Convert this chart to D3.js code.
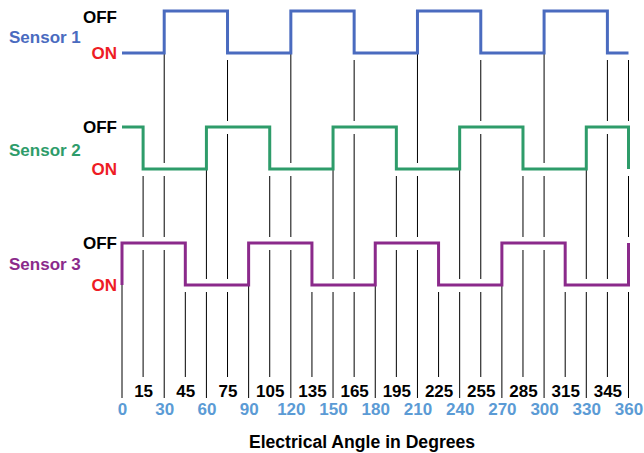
<!DOCTYPE html>
<html>
<head>
<meta charset="utf-8">
<script src="https://cdn.jsdelivr.net/npm/d3@7"></script>
<style>
  body { margin: 0; background: #fff; }
  text { font-family: "Liberation Sans", Arial, Helvetica, sans-serif; font-weight: bold; }
</style>
</head>
<body>
<svg id="chart" width="644" height="453"></svg>
<script>
// data
const sensorNames = ["Sensor 1", "Sensor 2", "Sensor 3"];
const startStates = ["ON", "OFF", "ON"];
const sensor1Edges = [30, 75, 120, 165, 210, 255, 300, 345];
const sensor2Edges = [15, 60, 105, 150, 195, 240, 285, 330, 360];
const sensor3Edges = [0, 45, 90, 135, 180, 225, 270, 315, 360];
const majorTicks = [0, 30, 60, 90, 120, 150, 180, 210, 240, 270, 300, 330, 360];
const minorTicks = [15, 45, 75, 105, 135, 165, 195, 225, 255, 285, 315, 345];
const axisTitle = "Electrical Angle in Degrees";

var dimensions = {
    width: 644,
    height: 453,
    left: 122,
    right: 628.5
}

var sensorColors = ["#4a6bbf", "#2e9c6a", "#8b2a8b"];
var onColor = "#ee1c25";
var tickBlue = "#5b9bd5";

var sensors = sensorNames.map((name, i) => ({
    name: name,
    start: startStates[i],
    edges: [sensor1Edges, sensor2Edges, sensor3Edges][i]
}));

var svg = d3.select("#chart");

var xScale = d3.scaleLinear()
               .domain([0, 360])
               .range([dimensions.left, dimensions.right]);

// y of the OFF level for each sensor; ON sits below it
var offScale = d3.scaleLinear()
                 .domain([0, 2])
                 .range([11, 243]);
var stateOffset = { OFF: 0, ON: 42 };

function levelY(i, state) {
    return offScale(i) + stateOffset[state];
}

function flip(s) { return s === "ON" ? "OFF" : "ON"; }

function stateAt(sensor, a) {
    var s = sensor.start;
    sensor.edges.forEach(e => { if (e <= a) s = flip(s); });
    return s;
}

// step waveform points
sensors.forEach((sensor, i) => {
    var pts = [];
    var s = sensor.start;
    pts.push([0, s]);
    sensor.edges.forEach(e => {
        pts.push([e, s]);
        s = flip(s);
        pts.push([e, s]);
    });
    pts.push([360, s]);
    sensor.points = pts;
});

// guide lines, broken where they cross a waveform
var guideAngles = majorTicks.concat(minorTicks).sort((a, b) => a - b);
var guideSegments = [];
guideAngles.forEach(a => {
    var from = a === 360 ? 0 : sensors.findIndex(s => s.edges.includes(a));
    var y0 = levelY(from, stateAt(sensors[from], a)) + 7;
    for (var j = from + 1; j < sensors.length; j++) {
        var g0, g1;
        if (sensors[j].edges.includes(a)) {
            g0 = levelY(j, "OFF") - 6;
            g1 = levelY(j, "ON") + 7;
        } else {
            var y = levelY(j, stateAt(sensors[j], a));
            g0 = y - 6;
            g1 = y + 7;
        }
        if (g0 > y0) guideSegments.push({ a: a, y1: y0, y2: g0 });
        y0 = Math.max(y0, g1);
    }
    var bottom = a % 30 === 0 ? 398 : 377;
    guideSegments.push({ a: a, y1: y0, y2: bottom });
});

svg.append("g")
   .selectAll("line")
   .data(guideSegments)
   .enter()
   .append("line")
   .attr("x1", d => xScale(d.a))
   .attr("x2", d => xScale(d.a))
   .attr("y1", d => d.y1)
   .attr("y2", d => d.y2)
   .attr("stroke", "#000")
   .attr("stroke-width", 1);

var lineGen = d3.line()
                .x(d => xScale(d[0]));

svg.append("g")
   .selectAll("path")
   .data(sensors)
   .enter()
   .append("path")
   .attr("d", (d, i) => lineGen.y(p => levelY(i, p[1]))(d.points))
   .attr("fill", "none")
   .attr("stroke", (d, i) => sensorColors[i])
   .attr("stroke-width", 3)
   .attr("stroke-linejoin", "miter");

// labels on the left
var labels = svg.append("g").style("font-size", "17px");

labels.selectAll(".name")
      .data(sensors)
      .enter()
      .append("text")
      .attr("x", 9)
      .attr("y", (d, i) => offScale(i) + 31.5 - 2.5 * i)
      .attr("fill", (d, i) => sensorColors[i])
      .text(d => d.name);

labels.selectAll(".off")
      .data(sensors)
      .enter()
      .append("text")
      .attr("x", 117)
      .attr("y", (d, i) => Math.max(levelY(i, "OFF") + 6, 23))
      .attr("text-anchor", "end")
      .attr("fill", "#000")
      .text("OFF");

labels.selectAll(".on")
      .data(sensors)
      .enter()
      .append("text")
      .attr("x", 117)
      .attr("y", (d, i) => levelY(i, "ON") + 6)
      .attr("text-anchor", "end")
      .attr("fill", onColor)
      .text("ON");

// tick labels
var minorAxis = svg.append("g")
                   .attr("transform", "translate(0, 397)")
                   .call(d3.axisBottom(xScale).tickValues(minorTicks).tickSize(0).tickFormat(d3.format("d")));

var majorAxis = svg.append("g")
                   .attr("transform", "translate(0, 415)")
                   .call(d3.axisBottom(xScale).tickValues(majorTicks).tickSize(0).tickFormat(d3.format("d")));

[minorAxis, majorAxis].forEach((ax, k) => {
    ax.select(".domain").remove();
    ax.selectAll("text")
      .attr("y", 0)
      .attr("dy", 0)
      .attr("fill", k === 0 ? "#000" : tickBlue)
      .style("font-size", "17px")
      .style("font-family", "'Liberation Sans', Arial, sans-serif")
      .style("font-weight", "bold");
});

svg.append("text")
   .attr("x", 362)
   .attr("y", 448)
   .attr("text-anchor", "middle")
   .attr("fill", "#000")
   .style("font-size", "17.6px")
   .text(axisTitle);
</script>
</body>
</html>
